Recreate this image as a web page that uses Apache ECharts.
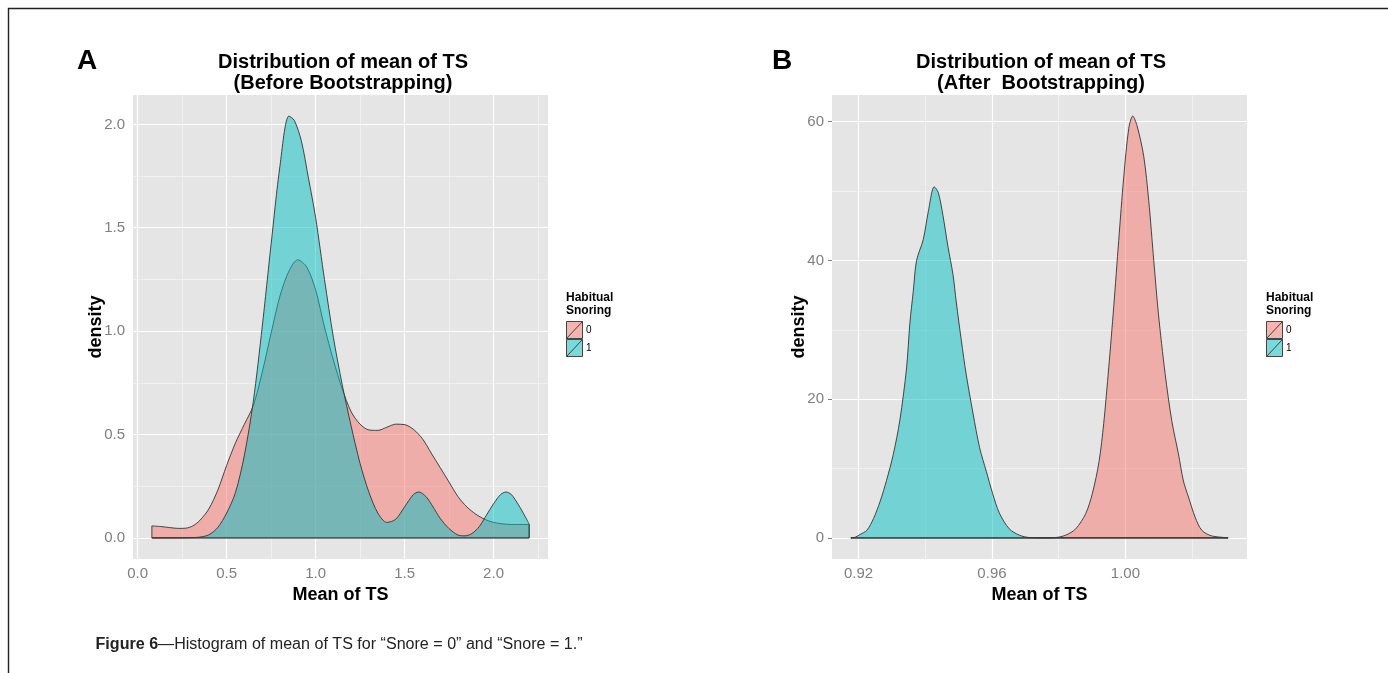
<!DOCTYPE html>
<html><head><meta charset="utf-8">
<script src="https://cdn.jsdelivr.net/npm/echarts@6/dist/echarts.min.js"></script>
<style>html,body{margin:0;padding:0;background:#fff}#c{width:1388px;height:673px}</style>
</head><body><div id="c"></div>
<script>
// ---------- Panel A (Before Bootstrapping) ----------
const aSnore0X = [0.08,0.13,0.18,0.23,0.27,0.31,0.35,0.40,0.45,0.50,0.55,0.60,0.65,0.70,0.75,0.80,0.85,0.90,0.95,1.00,1.05,1.10,1.15,1.20,1.25,1.30,1.35,1.40,1.45,1.50,1.55,1.60,1.65,1.70,1.75,1.80,1.85,1.90,1.95,2.00,2.05,2.10,2.20];
const aSnore0Y = [0.058,0.055,0.050,0.046,0.047,0.058,0.085,0.14,0.23,0.35,0.46,0.55,0.64,0.80,0.99,1.17,1.29,1.345,1.31,1.20,1.02,0.86,0.72,0.61,0.55,0.522,0.52,0.535,0.55,0.548,0.525,0.48,0.41,0.34,0.27,0.20,0.15,0.115,0.09,0.075,0.068,0.065,0.065];
const aSnore1X = [0.08,0.20,0.30,0.35,0.40,0.45,0.50,0.55,0.60,0.65,0.70,0.75,0.80,0.85,0.88,0.92,0.96,1.00,1.05,1.10,1.15,1.20,1.25,1.30,1.35,1.40,1.45,1.50,1.55,1.58,1.62,1.66,1.70,1.75,1.80,1.84,1.88,1.92,1.96,2.00,2.04,2.07,2.10,2.14,2.18,2.20];
const aSnore1Y = [0,0,0.001,0.004,0.015,0.05,0.12,0.22,0.40,0.66,1.02,1.42,1.80,2.04,2.02,1.92,1.74,1.55,1.25,0.97,0.74,0.54,0.36,0.22,0.12,0.075,0.09,0.15,0.21,0.222,0.20,0.15,0.095,0.045,0.014,0.010,0.022,0.055,0.11,0.165,0.21,0.222,0.21,0.16,0.10,0.067];
const aXTicks = [0.0,0.5,1.0,1.5,2.0];
const aXMinor = [0.25,0.75,1.25,1.75,2.25];
const aYTicks = [0.0,0.5,1.0,1.5,2.0];
const aYMinor = [0.25,0.75,1.25,1.75];

// ---------- Panel B (After Bootstrapping) ----------
const bSnore0X = [0.9177,0.9760,0.9791,0.9821,0.9851,0.9881,0.9901,0.9921,0.9935,0.9950,0.9965,0.9980,0.9995,1.0010,1.0022,1.0035,1.0055,1.0070,1.0085,1.0099,1.0119,1.0139,1.0159,1.0174,1.0189,1.0209,1.0229,1.0258,1.0308];
const bSnore0Y = [0,0,0.05,0.4,1.3,3.5,6.4,11.0,16.5,24.5,33.3,42.9,52.0,59.0,60.8,59.4,55.0,48.6,40.0,32.3,23.7,16.9,12.1,8.2,5.9,3.0,1.1,0.3,0.02];
const bSnore1X = [0.9177,0.9190,0.9205,0.9225,0.9245,0.9265,0.9284,0.9304,0.9324,0.9344,0.9354,0.9364,0.9374,0.9394,0.9409,0.9427,0.9439,0.9453,0.9468,0.9483,0.9493,0.9508,0.9523,0.9543,0.9563,0.9583,0.9602,0.9622,0.9652,0.9682,0.9712,0.9750,1.0308];
const bSnore1Y = [0,0.1,0.5,1.1,2.8,5.3,8.3,12.0,17.0,24.5,31.0,35.5,40.0,43.0,47.0,50.6,49.8,46.5,42.0,38.0,34.0,28.5,23.5,18.0,13.0,9.6,6.4,3.6,1.3,0.4,0.05,0,0];
const bXTicks = [0.92,0.96,1.00];
const bXMinor = [0.94,0.98,1.02];
const bYTicks = [0,20,40,60];
const bYMinor = [10,30,50];

const groups = ['0','1'];
const fills = ['rgba(248,118,109,0.5)','rgba(0,191,196,0.5)'];
const FONT = '"Liberation Sans", Arial, Helvetica, sans-serif';

function pairs(xs, ys){ return xs.map((x,i)=>[x, ys[i]]); }
function expand(lo, hi){ const d=(hi-lo)*0.05; return [lo-d, hi+d]; }
function edge(xs, ys){ const n=xs.length-1; return [[xs[0],ys[0]],[xs[0],0],[xs[n],0],[xs[n],ys[n]]]; }

const aXR = expand(Math.min(...aSnore0X, ...aSnore1X), Math.max(...aSnore0X, ...aSnore1X));
const aYR = expand(0, Math.max(...aSnore0Y, ...aSnore1Y));
const bXR = expand(Math.min(...bSnore0X, ...bSnore1X), Math.max(...bSnore0X, ...bSnore1X));
const bYR = expand(0, Math.max(...bSnore0Y, ...bSnore1Y));

function xAxisCfg(idx, range, ticks, fmt){
  return {type:'value', gridIndex:idx, min:range[0], max:range[1],
    name:'Mean of TS', nameLocation:'middle', nameGap:27,
    nameTextStyle:{fontFamily:FONT, fontWeight:'bold', fontSize:18, color:'#000'},
    axisLine:{show:false},
    axisTick:{show:true, length:4, customValues:ticks, lineStyle:{color:'#7F7F7F', width:1}},
    axisLabel:{show:true, customValues:ticks, margin:7, color:'#7F7F7F', fontSize:15, fontFamily:FONT, formatter:fmt},
    splitLine:{show:false}};
}
function yAxisCfg(idx, range, ticks, fmt, gap){
  return {type:'value', gridIndex:idx, min:range[0], max:range[1],
    name:'density', nameLocation:'middle', nameGap:gap, nameMoveOverlap:false,
    nameTextStyle:{fontFamily:FONT, fontWeight:'bold', fontSize:18, color:'#000'},
    axisLine:{show:false},
    axisTick:{show:true, length:4, customValues:ticks, lineStyle:{color:'#7F7F7F', width:1}},
    axisLabel:{show:true, customValues:ticks, margin:8, color:'#7F7F7F', fontSize:15, fontFamily:FONT, formatter:fmt},
    splitLine:{show:false}};
}
function gridLines(idx, xMaj, xMin, yMaj, yMin){
  const maj = {color:'#FFFFFF', width:1.2, type:'solid'};
  const mnr = {color:'#F2F2F2', width:0.8, type:'solid'};
  const data = [
    ...xMin.map(v=>({xAxis:v, lineStyle:mnr})),
    ...yMin.map(v=>({yAxis:v, lineStyle:mnr})),
    ...xMaj.map(v=>({xAxis:v, lineStyle:maj})),
    ...yMaj.map(v=>({yAxis:v, lineStyle:maj}))
  ];
  return {type:'line', xAxisIndex:idx, yAxisIndex:idx, data:[], z:1, zlevel:0, silent:true,
    markLine:{silent:true, symbol:['none','none'], animation:false, label:{show:false}, data:data}};
}
function density(idx, xs, ys, g){
  return {type:'line', name:groups[g], xAxisIndex:idx, yAxisIndex:idx, data:pairs(xs,ys),
    smooth:0.3, showSymbol:false, symbol:'none', zlevel:1, z:2+g, silent:true,
    lineStyle:{color:'#333333', width:0.9}, areaStyle:{color:fills[g], opacity:1}};
}
function edgeSeries(idx, xs, ys, g){
  return {type:'line', xAxisIndex:idx, yAxisIndex:idx, data:edge(xs,ys), smooth:false,
    showSymbol:false, symbol:'none', zlevel:1, z:2+g, silent:true, lineStyle:{color:'#333333', width:0.9}};
}

const chart = echarts.init(document.getElementById('c'), null, {renderer:'canvas'});

// caption fit
const cv = document.createElement('canvas').getContext('2d');
cv.font = 'bold 16px ' + FONT; const w1 = cv.measureText('Figure 6').width;
const capRest = '\u2014Histogram of mean of TS for \u201cSnore = 0\u201d and \u201cSnore = 1.\u201d';
cv.font = '16px ' + FONT; const w2 = cv.measureText(capRest).width;
const capScale = 487 / (w1 + w2);

function legend(x){
  const els = [
    {type:'text', left:x, top:292, style:{text:'Habitual', font:'bold 12px '+FONT, fill:'#000'}},
    {type:'text', left:x, top:305, style:{text:'Snoring', font:'bold 12px '+FONT, fill:'#000'}}
  ];
  groups.forEach((g,i)=>{
    const y = 321 + i*18;
    els.push({type:'rect', shape:{x:x, y:y, width:17, height:18}, style:{fill:'#F2F2F2', stroke:null}});
    els.push({type:'rect', shape:{x:x+0.5, y:y+0.5, width:16, height:17}, style:{fill:fills[i], stroke:'#333', lineWidth:0.9}});
    els.push({type:'line', shape:{x1:x+0.5, y1:y+17.5, x2:x+16.5, y2:y+0.5}, style:{stroke:'#333', lineWidth:0.9}});
    els.push({type:'text', x:x+20, y:y+9, style:{text:g, font:'10px '+FONT, fill:'#000', textVerticalAlign:'middle'}});
  });
  return els;
}

const graphics = [
  {type:'rect', shape:{x:8.5, y:8.5, width:1400, height:700}, style:{fill:'none', stroke:'#222', lineWidth:1.4}, silent:true},
  {type:'text', x:87, y:61, style:{text:'A', font:'bold 28px '+FONT, fill:'#000', textAlign:'center', textVerticalAlign:'middle'}},
  {type:'text', x:782, y:61, style:{text:'B', font:'bold 28px '+FONT, fill:'#000', textAlign:'center', textVerticalAlign:'middle'}},
  {type:'text', x:343, y:62, style:{text:'Distribution of mean of TS', font:'bold 20px '+FONT, fill:'#000', textAlign:'center', textVerticalAlign:'middle'}},
  {type:'text', x:343, y:83, style:{text:'(Before Bootstrapping)', font:'bold 20px '+FONT, fill:'#000', textAlign:'center', textVerticalAlign:'middle'}},
  {type:'text', x:1041, y:62, style:{text:'Distribution of mean of TS', font:'bold 20px '+FONT, fill:'#000', textAlign:'center', textVerticalAlign:'middle'}},
  {type:'text', x:1041, y:83, style:{text:'(After  Bootstrapping)', font:'bold 20px '+FONT, fill:'#000', textAlign:'center', textVerticalAlign:'middle'}},
  ...legend(566),
  ...legend(1266),
  {type:'text', x:96, y:645, scaleX:capScale, originX:96, style:{text:'{b|Figure 6}{r|'+capRest+'}', textVerticalAlign:'middle',
    rich:{b:{font:'bold 16px '+FONT, fill:'#222', fontWeight:'bold', fontSize:16, fontFamily:FONT, color:'#222'},
          r:{font:'16px '+FONT, fontSize:16, fontFamily:FONT, fill:'#222', color:'#222'}}}}
];

chart.setOption({
  animation:false,
  backgroundColor:'#FFFFFF',
  grid:[
    {left:133, top:95, width:415, height:464, show:true, backgroundColor:'#E5E5E5', borderWidth:0},
    {left:832, top:95, width:415, height:464, show:true, backgroundColor:'#E5E5E5', borderWidth:0}
  ],
  xAxis:[
    xAxisCfg(0, aXR, aXTicks, v=>v.toFixed(1)),
    xAxisCfg(1, bXR, bXTicks, v=>v.toFixed(2))
  ],
  yAxis:[
    yAxisCfg(0, aYR, aYTicks, v=>v.toFixed(1), 28),
    yAxisCfg(1, bYR, bYTicks, v=>String(Math.round(v)), 24)
  ],
  series:[
    gridLines(0, aXTicks, aXMinor, aYTicks, aYMinor),
    gridLines(1, bXTicks, bXMinor, bYTicks, bYMinor),
    density(0, aSnore0X, aSnore0Y, 0), edgeSeries(0, aSnore0X, aSnore0Y, 0),
    density(0, aSnore1X, aSnore1Y, 1), edgeSeries(0, aSnore1X, aSnore1Y, 1),
    density(1, bSnore0X, bSnore0Y, 0), edgeSeries(1, bSnore0X, bSnore0Y, 0),
    density(1, bSnore1X, bSnore1Y, 1), edgeSeries(1, bSnore1X, bSnore1Y, 1)
  ],
  graphic:graphics
});
</script></body></html>
